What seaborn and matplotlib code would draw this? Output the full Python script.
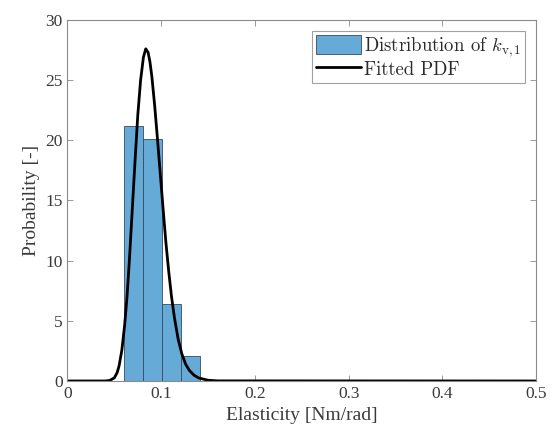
import numpy as np
import pandas as pd
import matplotlib
matplotlib.use("Agg")
import matplotlib.pyplot as plt
import seaborn as sns

# Histogram data (density values)
bin_edges = [0.0605, 0.0806, 0.1007, 0.1208, 0.1409]
bin_centers = [0.07055, 0.09065, 0.11075, 0.13085]
densities = [21.2, 20.1, 6.36, 2.09]

# Fitted PDF sample points
pdf_x = [0.0, 0.040, 0.045, 0.050, 0.053, 0.055, 0.058, 0.061, 0.0635, 0.066,
         0.069, 0.072, 0.075, 0.078, 0.081, 0.0835, 0.086, 0.088, 0.090, 0.093,
         0.096, 0.099, 0.102, 0.105, 0.108, 0.111, 0.114, 0.118, 0.122, 0.126,
         0.130, 0.135, 0.140, 0.150, 0.160, 0.5]
pdf_y = [0.0, 0.0, 0.04, 0.26, 0.70, 1.24, 2.56, 4.66, 7.0, 10.0,
         14.1, 18.2, 22.1, 25.0, 26.9, 27.6, 27.3, 26.5, 25.3, 22.9,
         20.1, 17.2, 14.3, 11.5, 9.1, 7.0, 5.3, 3.5, 2.25, 1.4,
         0.88, 0.48, 0.25, 0.06, 0.01, 0.0]

x_ticks = [0, 0.1, 0.2, 0.3, 0.4, 0.5]
x_ticklabels = ["0", "0.1", "0.2", "0.3", "0.4", "0.5"]
y_ticks = [0, 5, 10, 15, 20, 25, 30]

sns.set_style("ticks")
plt.rcParams["font.family"] = ["Liberation Serif", "DejaVu Serif"]
plt.rcParams["mathtext.fontset"] = "cm"
plt.rcParams["axes.unicode_minus"] = False

fig = plt.figure(figsize=(5.51, 4.43), dpi=100)
ax = fig.add_axes([0.1225, 0.140, 0.8505, 0.815])

hist_label = r"Distribution of $k_{\mathrm{v},1}$"
hist_df = pd.DataFrame({"x": bin_centers, "w": densities})
sns.histplot(data=hist_df, x="x", weights="w", bins=bin_edges, stat="count",
             color="#66AAD7", alpha=1.0, edgecolor="#3a4a5a", linewidth=0.6,
             ax=ax, label=hist_label)

pdf_df = pd.DataFrame({"x": pdf_x, "y": pdf_y})
sns.lineplot(data=pdf_df, x="x", y="y", color="black", linewidth=2.0, ax=ax,
             label="Fitted PDF")
for ln in ax.lines:
    ln.set_solid_joinstyle("round")

ax.set_xlim(0, 0.5)
ax.set_ylim(0, 30)
ax.set_xticks(x_ticks)
ax.set_xticklabels(x_ticklabels)
ax.set_yticks(y_ticks)
ax.set_xlabel("Elasticity [Nm/rad]", fontsize=14, color="#3a3a3a")
ax.set_ylabel("Probability [-]", fontsize=14, color="#3a3a3a")
ax.tick_params(direction="in", top=True, right=True, length=4, width=0.6,
               labelsize=12.5, colors="#8a8a8a", labelcolor="#3a3a3a")
for s in ax.spines.values():
    s.set_visible(True)
    s.set_color("#8a8a8a")
    s.set_linewidth(0.8)

handles, labels = ax.get_legend_handles_labels()
order = [labels.index(hist_label), labels.index("Fitted PDF")]
leg = ax.legend([handles[i] for i in order], [labels[i] for i in order],
                loc="upper right", prop={"family": "cmr10", "size": 13.5},
                frameon=True, fancybox=False,
                edgecolor="#8a8a8a", borderpad=0.2, handlelength=2.4, handleheight=1.15,
                handletextpad=0.15, labelspacing=0.05, borderaxespad=0.6)
leg.get_frame().set_linewidth(0.8)
for t in leg.get_texts():
    t.set_color("#2a2a2a")

fig.savefig("out.png", dpi=100)
